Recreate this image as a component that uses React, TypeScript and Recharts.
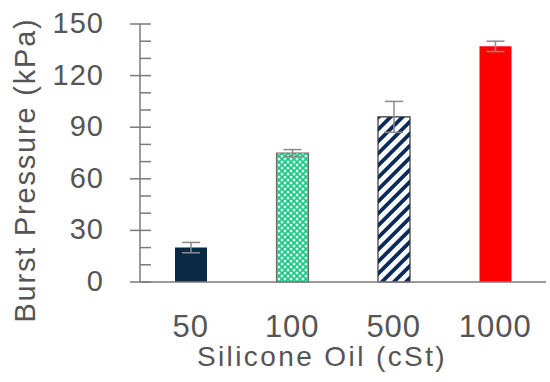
import React from 'react';
import { BarChart, Bar, XAxis, YAxis, ErrorBar, Cell, Label } from 'recharts';

const categories = ['50', '100', '500', '1000'];
const burstPressure = [20, 75, 96, 137];
const burstError = [3, 2, 9, 3];
const yTicks = [0, 10, 20, 30, 40, 50, 60, 70, 80, 90, 100, 110, 120, 130, 140, 150];
const majorTicks = [0, 30, 60, 90, 120, 150];

const data = categories.map((c, i) => ({ oil: c, value: burstPressure[i], err: burstError[i] }));

const FONT = '"Liberation Sans", Arial, sans-serif';
const TEXT = '#555555';
const AXIS = '#7a7a7a';
const AXIS_X = 140;

const fills = ['#0a2945', 'url(#greenDots)', 'url(#navyStripes)', '#ff0000'];
const strokes = ['none', '#6b6b6b', '#333333', 'none'];

const YTick = (props: any) => {
  const { y, payload } = props;
  const major = majorTicks.includes(payload.value);
  return (
    <g>
      <line x1={major ? AXIS_X - 10 : AXIS_X} x2={AXIS_X + 11} y1={y} y2={y} stroke={AXIS} strokeWidth={1.5} />
      {major && (
        <text x={104} y={y + 9} textAnchor="end" fill={TEXT} fontSize={29} fontFamily={FONT} letterSpacing={1}>
          {payload.value}
        </text>
      )}
    </g>
  );
};

const XTick = (props: any) => {
  const { x, payload } = props;
  return (
    <text x={x} y={337} textAnchor="middle" fill={TEXT} fontSize={31} fontFamily={FONT} letterSpacing={1}>
      {payload.value}
    </text>
  );
};

export default function App() {
  return (
    <div style={{ position: 'absolute', left: 0, top: 0, background: '#fff' }}>
      <svg width={0} height={0} style={{ position: 'absolute' }}>
        <defs>
          <pattern id="greenDots" width={6} height={6} patternUnits="userSpaceOnUse">
            <rect width={6} height={6} fill="#17c783" />
            <circle cx={0} cy={0} r={1.5} fill="#dffff0" />
            <circle cx={6} cy={0} r={1.5} fill="#dffff0" />
            <circle cx={0} cy={6} r={1.5} fill="#dffff0" />
            <circle cx={6} cy={6} r={1.5} fill="#dffff0" />
            <circle cx={3} cy={3} r={1.5} fill="#dffff0" />
          </pattern>
          <pattern id="navyStripes" width={8.5} height={8.5} patternUnits="userSpaceOnUse" patternTransform="rotate(45)">
            <rect width={8.5} height={8.5} fill="#ffffff" />
            <rect width={3.8} height={8.5} fill="#0b2a5a" />
          </pattern>
        </defs>
      </svg>
      <BarChart width={550} height={382} data={data} margin={{ top: 24, right: 4, bottom: 0, left: 0 }}>
        <XAxis
          dataKey="oil"
          height={100}
          axisLine={{ stroke: AXIS, strokeWidth: 1.5 }}
          tickLine={false}
          tick={<XTick />}
          interval={0}
        >
          <Label
            content={() => (
              <text x={322} y={366} textAnchor="middle" fill={TEXT} fontSize={28} fontFamily={FONT} letterSpacing={2.4}>
                Silicone Oil (cSt)
              </text>
            )}
          />
        </XAxis>
        <YAxis
          width={140}
          domain={[0, 150]}
          ticks={yTicks}
          interval={0}
          axisLine={{ stroke: AXIS, strokeWidth: 1.5 }}
          tickLine={false}
          tick={<YTick />}
        >
          <Label
            content={() => (
              <text
                x={0}
                y={0}
                transform="translate(35,170) rotate(-90)"
                textAnchor="middle"
                fill={TEXT}
                fontSize={29}
                fontFamily={FONT}
                letterSpacing={1.8}
              >
                Burst Pressure (kPa)
              </text>
            )}
          />
        </YAxis>
        <Bar dataKey="value" barSize={32} isAnimationActive={false}>
          {data.map((d, i) => (
            <Cell key={d.oil} fill={fills[i]} stroke={strokes[i]} strokeWidth={1.2} />
          ))}
          <ErrorBar dataKey="err" width={9} stroke="#8a8a8a" strokeWidth={1.5} />
        </Bar>
      </BarChart>
    </div>
  );
}
